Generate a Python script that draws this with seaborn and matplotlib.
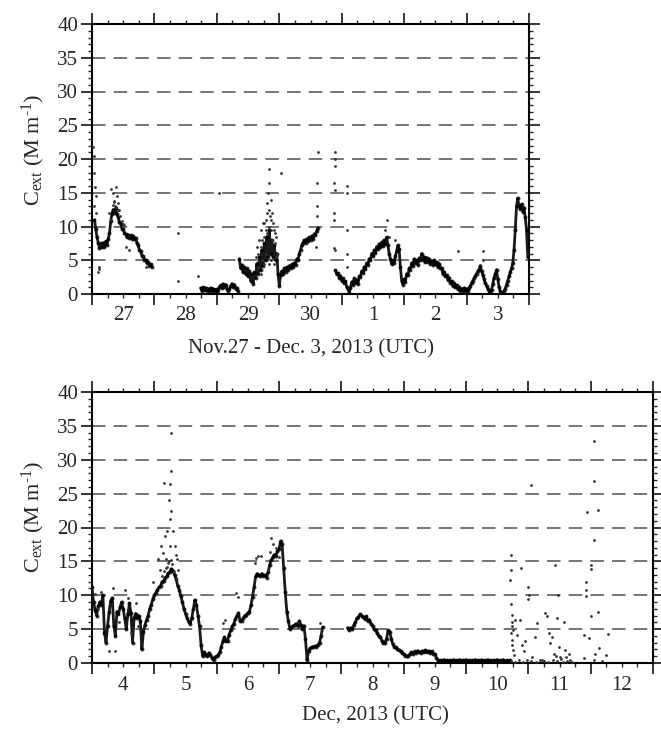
import numpy as np
import pandas as pd
import matplotlib
matplotlib.use("Agg")
import matplotlib.pyplot as plt
import seaborn as sns

# ---------------- data (days since panel start) ----------------
top_day_labels = ["27", "28", "29", "30", "1", "2", "3"]
bot_day_labels = ["4", "5", "6", "7", "8", "9", "10", "11", "12"]

# top panel: regularly sampled segments (start day, step, values)
top_seg1_start, top_seg1_step = 0.04, 0.02
top_seg1_vals = [11.0, 9.6, 8.4, 7.6, 6.8, 7.5, 6.9, 7.6, 7.0, 7.8, 7.3, 8.2, 9.0, 10.8, 11.9,
                 12.5, 12.0, 12.7, 11.8, 11.4, 10.6, 10.4, 9.7, 9.6, 9.1, 8.9, 8.4, 8.8, 8.3, 8.7,
                 8.2, 8.6, 8.1, 8.3, 7.5, 7.2, 6.5, 6.3, 5.7, 5.6, 5.1, 5.0, 4.6, 4.7, 4.2, 4.4, 4.0]

top_seg2_start, top_seg2_step = 1.74, 0.02
top_seg2_vals = [0.9, 0.5, 1.0, 0.6, 0.9, 0.5, 0.8, 0.4, 0.9, 0.5, 0.8, 0.4, 0.7, 0.3, 0.6, 1.0,
                 1.3, 0.9, 1.5, 1.1, 1.4, 0.8, 0.4, 0.7, 1.2, 1.5, 1.0, 1.4, 0.8, 0.9, 0.4]

top_seg3_start, top_seg3_step = 2.36, 0.02
top_seg3_vals = [5.2, 3.8, 4.3, 3.2, 4.0, 3.0, 3.8, 2.6, 3.4, 2.0, 3.0, 1.5, 3.2, 2.4, 4.5, 3.0,
                 5.5, 3.5, 6.5, 4.2, 7.5, 5.0, 8.5, 5.5, 9.5, 6.0, 8.0, 5.5, 7.2, 5.0, 6.0, 3.0,
                 1.2, 2.8, 3.4, 3.0, 3.8, 3.3, 4.0, 3.6, 4.2, 3.8, 4.4, 4.0, 4.6, 4.3, 5.2, 5.0,
                 6.0, 6.5, 7.2, 7.6, 8.0, 7.6, 8.2, 7.8, 8.4, 8.0, 8.6, 8.2, 8.9, 8.7, 9.4, 9.8]

top_seg4_start, top_seg4_step = 3.90, 0.02
top_seg4_vals = [3.5, 2.9, 3.1, 2.4, 2.7, 2.0, 2.3, 1.7, 1.9, 1.0, 0.8, 0.2, 0.9, 1.8, 1.4, 2.3,
                 1.7, 2.1, 1.5, 2.6, 2.5, 3.4, 3.1, 4.0, 3.7, 4.6, 4.3, 5.2, 5.0, 6.0, 5.6, 6.5,
                 6.1, 7.0, 6.6, 7.4, 6.9, 7.7, 7.1, 8.0, 7.4, 8.4, 7.2, 6.0, 5.2, 4.4, 5.0, 4.6,
                 5.6, 6.4, 7.2, 6.6, 4.0, 2.0, 1.4, 2.2, 1.8, 3.0, 2.8, 3.8, 3.6, 4.6, 4.2, 5.2,
                 4.6, 5.0, 4.3, 5.3, 5.0, 6.0, 5.1, 5.5, 4.7, 5.4, 4.8, 5.2, 4.5, 4.9, 4.3, 5.0,
                 4.4, 4.7, 4.0, 4.5, 3.9, 3.8, 3.0, 3.3, 2.6, 2.8, 2.1, 2.4, 1.7, 1.9, 1.2, 1.6,
                 1.0, 1.3, 0.7, 1.0, 0.5, 0.8, 0.4, 0.9, 0.5, 0.8, 0.4, 0.9, 1.2, 1.6, 2.0, 2.3,
                 2.7, 3.0, 3.4, 3.6, 4.2, 3.4, 2.8, 2.2, 1.6, 1.2, 0.8, 0.5, 0.3, 0.6, 1.5, 2.4,
                 3.0, 3.6, 2.2, 1.0, 0.4, 0.1, 0.2, 0.4, 0.8, 1.4, 2.0, 2.6, 3.2, 3.8, 4.6, 6.5,
                 9.5, 13.0, 14.2, 13.0, 12.6, 13.3, 12.2, 12.8, 11.4, 9.5, 5.5]

top_out_day = [0.02, 0.03, 0.04, 0.05, 0.06, 0.03, 0.07, 0.09, 0.11, 0.12, 0.30, 0.34, 0.38, 0.40,
               0.42, 0.36, 0.44, 0.28, 0.48, 0.52, 0.55, 0.60, 0.86, 1.37, 1.37, 1.70, 2.04, 2.75,
               2.80, 2.82, 2.83, 2.84, 2.86, 2.88, 2.85, 2.90, 2.78, 2.72, 3.02, 2.93, 2.70, 3.60,
               3.61, 3.62, 3.60, 3.59, 3.89, 3.89, 3.89, 3.88, 3.89, 3.87, 3.88, 3.88, 3.90, 4.09,
               4.09, 4.09, 4.08, 4.08, 4.73, 4.70, 4.76, 4.85, 5.86, 6.27, 6.27,
               2.62, 2.64, 2.66, 2.68, 2.70, 2.72, 2.74, 2.76, 2.78, 2.80, 2.81, 2.83, 2.84, 2.86,
               2.87, 2.89, 2.91, 2.93, 2.95, 2.97, 2.66, 2.70, 2.75, 2.79, 2.83, 2.87, 2.91, 2.95,
               0.33, 0.35, 0.37, 0.39, 0.41, 0.31, 0.45, 0.50]
top_out_val = [21.8, 20.5, 18.0, 15.8, 14.5, 13.0, 12.0, 3.3, 4.0, 3.7, 15.5, 15.0, 15.8, 14.5,
               13.5, 13.8, 12.5, 12.0, 10.8, 10.2, 7.0, 6.5, 4.0, 9.0, 2.0, 2.7, 15.0, 10.5,
               13.5, 15.0, 18.5, 16.5, 14.0, 12.0, 11.5, 10.5, 9.5, 8.0, 18.0, 9.0, 7.0, 13.0,
               16.4, 21.0, 11.5, 7.0, 21.0, 20.0, 19.0, 16.4, 15.4, 12.0, 11.0, 6.8, 6.5, 16.0,
               15.0, 9.5, 6.0, 4.0, 11.0, 9.5, 8.5, 8.0, 6.3, 6.3, 5.0,
               5.5, 7.0, 6.0, 8.0, 9.5, 5.0, 10.5, 8.5, 11.0, 9.0, 12.0, 10.0, 12.5, 9.5,
               11.0, 8.0, 9.5, 7.5, 8.5, 6.0, 4.0, 3.0, 4.5, 6.0, 4.5, 5.0, 4.5, 5.5,
               13.2, 13.6, 13.0, 12.9, 12.4, 11.0, 11.6, 10.4]

# bottom panel
bot_seg1_start, bot_seg1_step = 0.0, 0.025
bot_seg1_vals = [11.2, 9.0, 7.8, 7.0, 8.4, 9.0, 8.6, 10.0, 4.5, 3.0, 5.5, 7.5, 9.2, 9.6, 5.5, 4.0,
                 7.6, 7.2, 8.2, 9.0, 8.0, 6.6, 5.0, 7.2, 8.8, 7.4, 3.0, 6.6, 7.3, 6.6, 7.0, 6.2,
                 2.0, 4.6, 5.6, 6.4, 7.0, 8.0, 8.6, 9.4, 10.0, 10.4, 10.8, 11.2, 11.4, 12.0, 12.1,
                 12.6, 12.8, 13.3, 13.4, 13.9, 13.6, 13.0, 12.4, 11.4, 10.8, 9.9, 9.0, 8.0, 7.3,
                 6.6, 6.1, 5.8, 6.6, 8.0, 9.3, 8.6, 7.0, 5.4, 2.6, 1.0, 1.6, 1.2, 1.0, 1.5, 1.2,
                 0.8, 0.4, 0.9, 1.0, 1.2, 1.6, 2.4, 3.2, 3.8, 3.2, 3.2, 4.2, 4.8, 5.4, 5.8, 6.5,
                 7.0, 7.4, 6.2, 6.2, 6.6, 7.0, 7.1, 7.4, 7.6, 8.5, 9.8, 11.2, 12.8, 13.2, 13.0,
                 12.8, 13.2, 12.9, 13.0, 12.6, 13.4, 14.5, 15.2, 15.6, 16.0, 15.8, 16.5, 16.8,
                 18.0, 17.5, 14.0, 10.5, 7.6, 6.2, 5.0, 5.3, 5.5, 5.6, 5.8, 5.5, 6.2, 5.6, 5.0,
                 5.5, 3.5, 0.4, 1.8, 2.2, 2.3, 2.4, 2.5, 2.4, 2.7, 3.0, 4.0, 5.3]

bot_seg2_start, bot_seg2_step = 4.10, 0.025
bot_seg2_vals = [5.2, 4.8, 5.2, 5.0, 5.6, 6.0, 6.6, 6.8, 7.2, 7.0, 6.8, 6.5, 6.9, 6.2, 6.4, 5.8,
                 5.5, 5.0, 4.8, 4.4, 4.0, 3.8, 3.3, 2.9, 3.0, 3.6, 4.8, 4.6, 3.6, 2.8, 2.4, 2.3,
                 2.0, 1.9, 1.7, 1.5, 1.3, 1.1, 1.0, 1.1, 1.3, 1.6, 1.4, 1.7, 1.5, 1.8, 1.6, 1.5,
                 1.8, 1.6, 1.9, 1.6, 1.8, 1.5, 1.7, 1.4, 1.3, 0.8, 0.4, 0.3]

bot_seg3_start, bot_seg3_step = 5.60, 0.025
bot_seg3_vals = [0.4, 0.3, 0.5, 0.3, 0.4, 0.2, 0.4, 0.3, 0.5, 0.3, 0.4, 0.3, 0.5, 0.2, 0.4, 0.3,
                 0.5, 0.3, 0.4, 0.2, 0.4, 0.3, 0.5, 0.3, 0.4, 0.3, 0.5, 0.2, 0.4, 0.3, 0.5, 0.3,
                 0.4, 0.2, 0.4, 0.3, 0.5, 0.3, 0.4, 0.3, 0.5, 0.2, 0.4, 0.3, 0.4]

bot_out_day = [1.15, 1.25, 1.27, 1.24, 1.27, 1.25, 1.21, 1.17, 1.30, 1.25, 1.33, 1.11, 1.06, 1.14,
               1.34, 1.36, 1.19, 1.09, 1.38, 0.98, 1.27, 2.31, 2.34, 2.10, 2.13, 2.61, 2.63,
               2.66, 2.71, 2.87, 2.90, 0.37, 0.34, 0.53, 0.63, 3.65,
               6.715, 6.715, 6.704, 6.715, 6.73, 6.74, 6.74, 6.76, 6.715, 6.73, 6.74, 6.75, 6.77,
               6.79, 6.82, 6.87, 6.89, 6.90, 6.93, 6.95, 6.996, 6.996, 7.01, 7.05, 7.06, 7.11,
               7.14, 7.22, 7.27, 7.30, 7.33, 7.35, 7.38, 7.41, 7.43, 7.46, 7.48, 7.49, 7.51, 7.57,
               7.59, 7.65, 7.67, 7.89, 7.89, 7.925, 7.925, 7.93, 7.94, 7.97, 8.01, 8.01, 8.01,
               8.05, 8.05, 8.05, 8.07, 8.12, 8.12, 8.13, 8.18, 8.25, 8.28, 8.05,
               6.72, 6.78, 6.85, 6.92, 6.98, 7.05, 7.12, 7.18, 7.25, 7.32, 7.40, 7.46, 7.55, 7.62,
               7.70, 7.52, 7.45, 7.60,
               1.12, 1.16, 1.20, 1.23, 1.28, 1.31, 1.35, 1.18, 1.22, 1.26, 2.82, 2.86, 2.95, 3.00,
               0.05, 0.10, 0.15, 0.27, 0.44, 0.57, 0.70, 0.74]
bot_out_val = [26.5, 26.4, 28.3, 24.1, 22.4, 21.2, 19.5, 18.7, 19.5, 17.2, 17.2, 17.2, 15.3, 16.2,
               16.0, 15.3, 15.3, 13.8, 13.8, 12.0, 34.0, 10.3, 9.8, 5.9, 6.4, 14.8, 15.5,
               15.8, 15.8, 18.5, 17.5, 1.7, 11.1, 10.8, 4.4, 5.9,
               16.0, 13.8, 12.2, 8.7, 7.1, 6.1, 5.4, 4.9, 4.4, 3.4, 2.7, 1.9, 1.2,
               6.4, 4.1, 6.4, 14.0, 2.7, 1.7, 3.2, 11.2, 9.4, 10.1, 26.2, 0.9, 3.9,
               5.9, 0.4, 7.4, 6.9, 4.4, 2.9, 3.9, 1.4, 14.4, 6.6, 10.1, 2.4, 0.9, 6.1,
               1.9, 1.4, 0.4, 4.1, 0.7, 10.8, 9.9, 11.9, 22.3, 3.7, 14.5, 13.9, 7.0,
               18.2, 26.9, 0.4, 1.4, 22.6, 7.5, 2.2, 0.3, 1.2, 4.3, 32.8,
               0.3, 0.2, 0.5, 0.2, 0.4, 0.3, 0.2, 0.5, 0.3, 0.2, 0.4, 0.3, 0.2, 0.3,
               0.2, 0.6, 1.0, 0.9,
               12.8, 13.6, 14.2, 15.0, 14.6, 13.5, 12.4, 14.0, 14.8, 15.2, 13.8, 16.4, 17.0, 15.6,
               10.2, 8.0, 10.5, 1.8, 6.0, 9.6, 8.8, 5.4]

y_ticks = [0, 5, 10, 15, 20, 25, 30, 35, 40]


def segments_frame(segs):
    rows = []
    for sid, (start, step, vals) in enumerate(segs):
        for i, v in enumerate(vals):
            rows.append((start + step * i, v, sid))
    return pd.DataFrame(rows, columns=["day", "value", "seg"])


top_df = segments_frame([(top_seg1_start, top_seg1_step, top_seg1_vals),
                         (top_seg2_start, top_seg2_step, top_seg2_vals),
                         (top_seg3_start, top_seg3_step, top_seg3_vals),
                         (top_seg4_start, top_seg4_step, top_seg4_vals)])
bot_df = segments_frame([(bot_seg1_start, bot_seg1_step, bot_seg1_vals),
                         (bot_seg2_start, bot_seg2_step, bot_seg2_vals),
                         (bot_seg3_start, bot_seg3_step, bot_seg3_vals)])
top_out = pd.DataFrame({"day": top_out_day, "value": top_out_val})
bot_out = pd.DataFrame({"day": bot_out_day, "value": bot_out_val})

# ---------------- style ----------------
sns.set_style("ticks")
plt.rcParams["font.family"] = ["Liberation Serif", "DejaVu Serif"]
plt.rcParams["mathtext.fontset"] = "custom"
plt.rcParams["mathtext.rm"] = "Liberation Serif"
plt.rcParams["mathtext.it"] = "Liberation Serif:italic"

fig = plt.figure(figsize=(6.61, 7.31), dpi=100)
W, H = 661, 731
ax1 = fig.add_axes([92 / W, 1 - 294 / H, (529 - 92) / W, (294 - 24) / H])
ax2 = fig.add_axes([92 / W, 1 - 663 / H, (653 - 92) / W, (663 - 392) / H])

TICK_FS = 15
LABEL_FS = 15


def style_axis(ax, ndays, labels):
    ax.set_xlim(0, ndays)
    ax.set_ylim(0, 40)
    ax.set_xticks(range(ndays + 1))
    ax.set_xticklabels([""] * (ndays + 1))
    quarter = [i * 0.25 for i in range(1, 4 * ndays) if i % 4 != 0]
    qlabels = [labels[int(q)] if abs(q - int(q) - 0.5) < 1e-9 else "" for q in quarter]
    ax.set_xticks(quarter, minor=True)
    ax.set_xticklabels(qlabels, minor=True)
    ax.set_yticks(y_ticks)
    ax.set_yticks(range(0, 41), minor=True)
    ax.tick_params(axis="both", which="major", direction="out", length=8, width=1.3,
                   top=True, right=True, labelsize=TICK_FS, pad=2)
    ax.tick_params(axis="both", which="minor", direction="out", length=3, width=1.0,
                   top=True, right=True, labelsize=TICK_FS)
    ax.tick_params(axis="x", which="minor", pad=6)
    for sp in ax.spines.values():
        sp.set_linewidth(1.5)
        sp.set_color("black")
        sp.set_visible(True)
    for y in y_ticks[1:-1]:
        ax.axhline(y, color="#6a6a6a", lw=1.3, ls=(0, (7.5, 4.5)), zorder=0)


for ax, df, out, nd, labs in [(ax1, top_df, top_out, 7, top_day_labels),
                              (ax2, bot_df, bot_out, 9, bot_day_labels)]:
    sns.lineplot(data=df, x="day", y="value", units="seg", estimator=None, sort=False,
                 color="#1a1a1a", lw=2.0, ax=ax, zorder=3)
    sns.scatterplot(data=df, x="day", y="value", color="black", s=8, linewidth=0,
                    ax=ax, zorder=3, alpha=0.8)
    sns.scatterplot(data=out, x="day", y="value", color="#333333", s=4, linewidth=0,
                    ax=ax, zorder=3)
    style_axis(ax, nd, labs)

ylab = r"C$_{\rm ext}$ (M m$^{\text{-1}}$)"
ax1.set_ylabel(ylab, fontsize=LABEL_FS + 1)
ax2.set_ylabel(ylab, fontsize=LABEL_FS + 1)
ax1.set_xlabel("Nov.27 - Dec. 3, 2013 (UTC)", fontsize=LABEL_FS)
ax2.set_xlabel("Dec, 2013 (UTC)", fontsize=LABEL_FS)
ax1.yaxis.set_label_coords((47 - 92) / 437, (294 - 150) / 270)
ax2.yaxis.set_label_coords((47 - 92) / 561, (663 - 517) / 271)
ax1.xaxis.set_label_coords(0.5, (294 - 339) / 270)
ax2.xaxis.set_label_coords((375 - 92) / 561, (663 - 706) / 271)

fig.savefig("out.png", dpi=100)
